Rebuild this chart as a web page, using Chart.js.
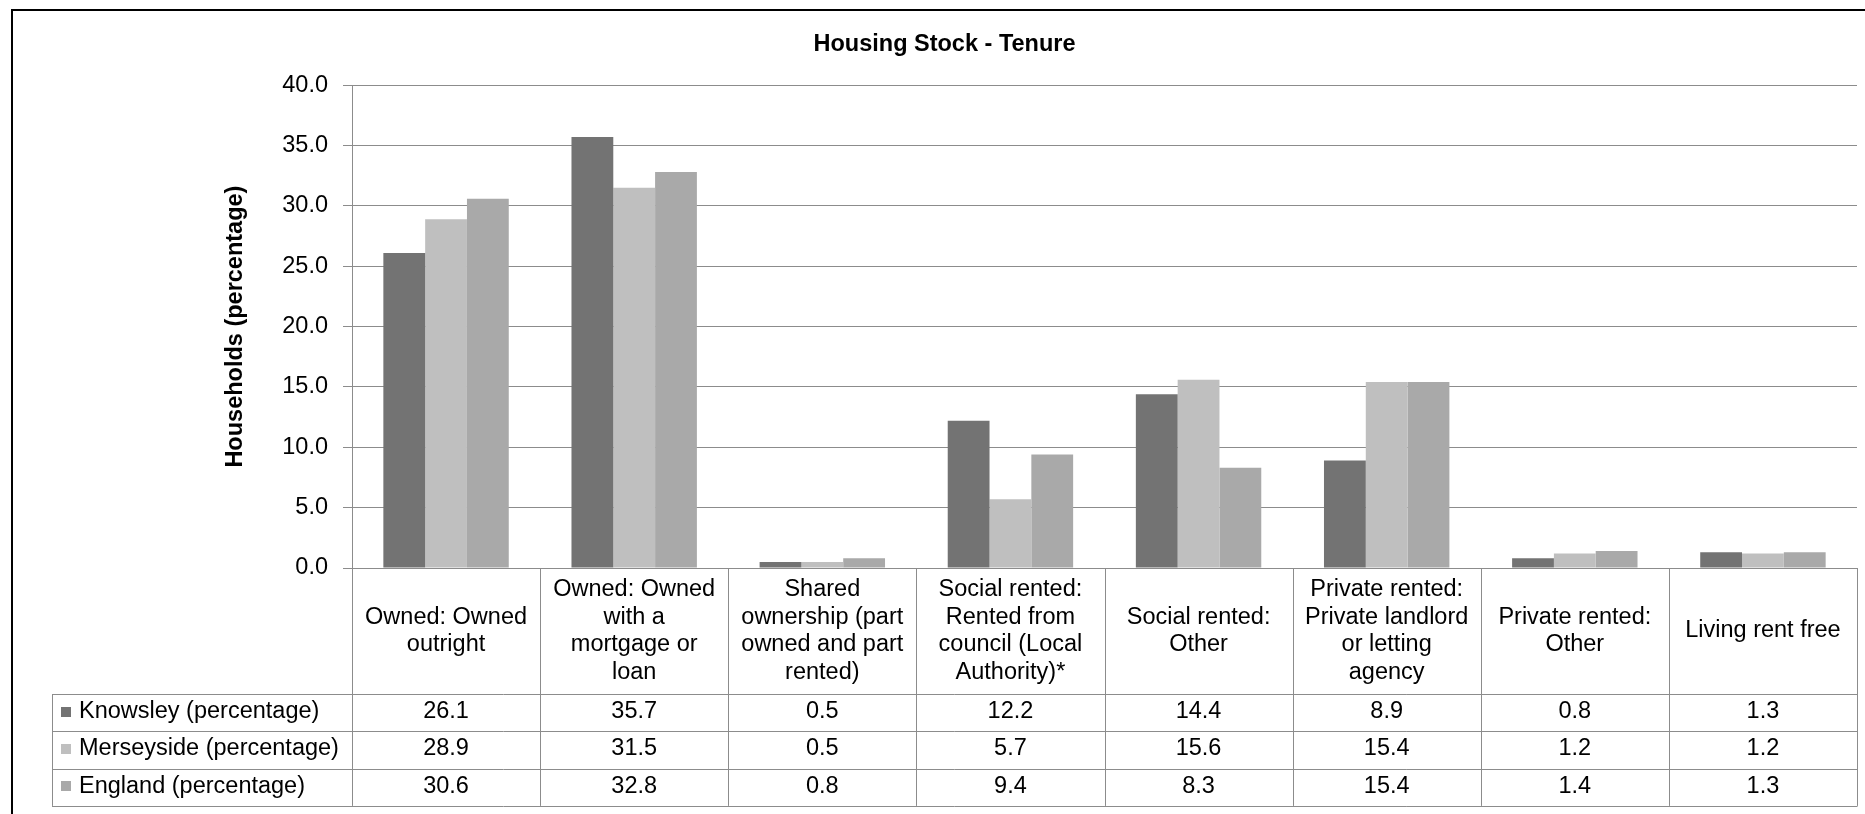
<!DOCTYPE html>
<html>
<head>
<meta charset="utf-8">
<title>Housing Stock - Tenure</title>
<script src="https://cdn.jsdelivr.net/npm/chart.js@4.4.1/dist/chart.umd.min.js"></script>
<style>
  html, body { margin: 0; padding: 0; background: #fff; overflow: hidden; }
  .chart-container { position: relative; width: 1865px; height: 814px; }
</style>
</head>
<body>
<div class="chart-container"><canvas id="chart"></canvas></div>
<script>
// categories, one array of lines per column of the data table
const categories = [
  ["Owned: Owned", "outright"],
  ["Owned: Owned", "with a", "mortgage or", "loan"],
  ["Shared", "ownership (part", "owned and part", "rented)"],
  ["Social rented:", "Rented from", "council (Local", "Authority)*"],
  ["Social rented:", "Other"],
  ["Private rented:", "Private landlord", "or letting", "agency"],
  ["Private rented:", "Other"],
  ["Living rent free"]
];
const seriesNames = ["Knowsley (percentage)", "Merseyside (percentage)", "England (percentage)"];
const knowsley = [26.1, 35.7, 0.5, 12.2, 14.4, 8.9, 0.8, 1.3];
const merseyside = [28.9, 31.5, 0.5, 5.7, 15.6, 15.4, 1.2, 1.2];
const england = [30.6, 32.8, 0.8, 9.4, 8.3, 15.4, 1.4, 1.3];
const yMin = 0;
const yMax = 40;
const yStep = 5;

const colors = ["#737373", "#bfbfbf", "#a9a9a9"];
const gridColor = "#8c8c8c";
const fontFamily = "'Liberation Sans', Arial, sans-serif";
const fontSize = 23.5;

Chart.defaults.font.family = fontFamily;

const seriesValues = [knowsley, merseyside, england];

// draws the outer frame of the chart
const frame = {
  id: "frame",
  beforeDraw(chart) {
    const ctx = chart.ctx;
    ctx.save();
    ctx.fillStyle = "#fff";
    ctx.fillRect(0, 0, chart.width, chart.height);
    ctx.fillStyle = "#000";
    ctx.fillRect(11, 9, 2, chart.height);
    ctx.fillRect(11, 9, chart.width, 2);
    ctx.restore();
  }
};

// excel style data table under the plot
const dataTable = {
  id: "dataTable",
  afterDraw(chart) {
    const ctx = chart.ctx;
    const x = chart.scales.x;
    const area = chart.chartArea;
    const n = categories.length;
    const step = x.getPixelForValue(1) - x.getPixelForValue(0);
    const headTop = area.bottom;
    const headBottom = Math.round(headTop + 125.6);
    const rowH = 37.3;
    const tableLeft = 52;
    const tableBottom = headBottom + rowH * seriesNames.length;
    const px = v => Math.round(v) + 0.5;

    ctx.save();
    ctx.strokeStyle = gridColor;
    ctx.lineWidth = 1;
    ctx.beginPath();
    for (let i = 0; i <= n; i++) {
      const cx = px(x.getPixelForValue(i) - step / 2);
      ctx.moveTo(cx, headTop);
      ctx.lineTo(cx, tableBottom);
    }
    ctx.moveTo(px(tableLeft), headBottom);
    ctx.lineTo(px(tableLeft), tableBottom);
    for (let r = 0; r <= seriesNames.length; r++) {
      const ry = px(headBottom + r * rowH);
      ctx.moveTo(tableLeft, ry);
      ctx.lineTo(px(area.right), ry);
    }
    ctx.stroke();

    ctx.fillStyle = "#000";
    ctx.font = fontSize + "px " + fontFamily;
    ctx.textBaseline = "middle";

    // category headers
    ctx.textAlign = "center";
    const lineH = 27.5;
    const headMid = (headTop + headBottom) / 2;
    categories.forEach((lines, i) => {
      const cx = x.getPixelForValue(i);
      const y0 = headMid - (lines.length - 1) * lineH / 2;
      lines.forEach((t, k) => ctx.fillText(t, cx, y0 + k * lineH));
    });

    // series rows
    seriesNames.forEach((name, r) => {
      const cy = headBottom + r * rowH + rowH / 2;
      ctx.fillStyle = colors[r];
      ctx.fillRect(61, Math.round(cy - 6), 10, 10);
      ctx.fillStyle = "#000";
      ctx.textAlign = "left";
      ctx.fillText(name, 79, cy - 1);
      ctx.textAlign = "center";
      seriesValues[r].forEach((v, i) => {
        ctx.fillText(v.toFixed(1), x.getPixelForValue(i), cy - 1);
      });
    });
    ctx.restore();
  }
};

new Chart(document.getElementById("chart"), {
  type: "bar",
  data: {
    labels: categories,
    datasets: seriesNames.map((name, i) => ({
      label: name,
      data: seriesValues[i],
      backgroundColor: colors[i],
      borderWidth: 0,
      categoryPercentage: 3 / 4.5,
      barPercentage: 1
    }))
  },
  options: {
    responsive: true,
    maintainAspectRatio: false,
    animation: false,
    layout: { padding: { top: 0, left: 32, right: 8, bottom: 246 } },
    plugins: {
      legend: { display: false },
      tooltip: { enabled: false },
      title: {
        display: true,
        text: "Housing Stock - Tenure",
        color: "#000",
        font: { size: fontSize, weight: "bold" },
        padding: { top: 30, bottom: 27 }
      }
    },
    scales: {
      x: {
        display: false
      },
      y: {
        min: yMin,
        max: yMax,
        ticks: {
          stepSize: yStep,
          padding: 15,
          color: "#000",
          font: { size: fontSize },
          callback: v => v.toFixed(1)
        },
        grid: { color: gridColor, lineWidth: 1, tickLength: 9 },
        border: { color: gridColor, width: 1 },
        title: {
          display: true,
          text: "Households (percentage)",
          color: "#000",
          font: { size: fontSize, weight: "bold" },
          padding: { top: 189, bottom: 0 }
        },
        afterFit(scale) { scale.width = 320; }
      }
    }
  },
  plugins: [frame, dataTable]
});
</script>
</body>
</html>
